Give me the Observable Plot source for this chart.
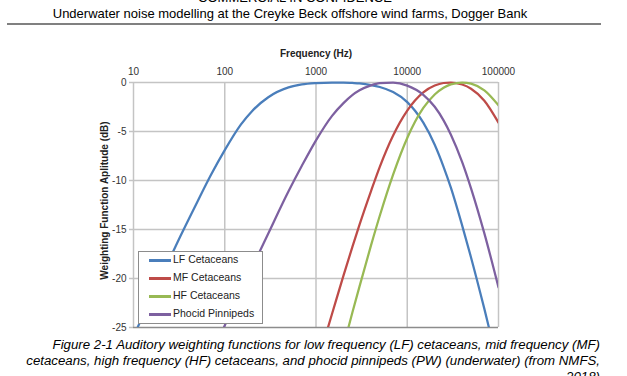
<!DOCTYPE html>
<html><head><meta charset="utf-8">
<script src="https://cdn.jsdelivr.net/npm/d3@7"></script>
<script src="https://cdn.jsdelivr.net/npm/@observablehq/plot@0.6"></script>
<style>
html,body{margin:0;padding:0;background:#fff;width:627px;height:376px;overflow:hidden;font-family:"Liberation Sans",Arial,sans-serif;color:#000;}
.abs{position:absolute;white-space:nowrap;}
#legend{left:138px;top:251px;width:123px;height:71px;border:1px solid #8c8c8c;background:#fff;}
.item{position:absolute;left:0;height:18px;font-size:10.5px;color:#222;}
.sw{position:absolute;left:10px;width:22px;height:2.5px;top:-1px;}
.lt{position:absolute;left:34px;top:-7px;}
</style></head><body>
<div class="abs" style="left:0;width:590px;top:-9px;text-align:center;font-size:13px;line-height:13px;">COMMERCIAL IN CONFIDENCE</div>
<div class="abs" style="left:0;width:580px;top:6px;text-align:center;font-size:13px;">Underwater noise modelling at the Creyke Beck offshore wind farms, Dogger Bank</div>
<div class="abs" style="left:7px;width:594px;top:23px;height:2px;background:#808080;"></div>
<div id="chart" class="abs" style="left:0;top:40px;"></div>
<div id="xtitle" class="abs" style="left:216px;width:200px;top:48px;text-align:center;font-size:10px;font-weight:bold;color:#222;">Frequency (Hz)</div>
<div id="ytitle" class="abs" style="left:4px;width:200px;top:195px;text-align:center;font-size:10px;font-weight:bold;color:#222;transform:rotate(-90deg);">Weighting Function Aplitude (dB)</div>
<div id="legend" class="abs"></div>
<div class="abs" style="right:27px;top:337px;text-align:right;font-size:13.25px;font-style:italic;line-height:16px;">Figure 2-1 Auditory weighting functions for low frequency (LF) cetaceans, mid frequency (MF)<br>cetaceans, high frequency (HF) cetaceans, and phocid pinnipeds (PW) (underwater) (from NMFS,<br>2018)</div>
<script>
const freqHz = [10, 12, 15, 20, 30, 50, 70, 100, 150, 200, 300, 500, 700, 1000, 1500, 2000, 2500, 3000, 4000, 5000, 7000, 10000, 15000, 20000, 25000, 30000, 40000, 50000, 70000, 100000];
const lfDb = [-25.9, -24.3, -22.4, -19.9, -16.4, -12.2, -9.5, -6.9, -4.3, -2.9, -1.5, -0.5, -0.2, -0.06, 0, 0, -0.05, -0.1, -0.26, -0.46, -0.98, -2.0, -4.1, -6.35, -8.6, -10.7, -14.6, -17.85, -23.1, -29.0];
const mfDb = [null, null, null, null, null, null, null, null, null, null, null, null, null, -29.1, -23.6, -19.7, -16.8, -14.5, -11.1, -8.6, -5.4, -2.86, -1.0, -0.31, -0.05, 0, -0.21, -0.64, -1.86, -4.1];
const hfDb = [null, null, null, null, null, null, null, null, null, null, null, null, null, null, null, -26.9, -23.5, -20.8, -16.65, -13.6, -9.4, -5.66, -2.6, -1.22, -0.53, -0.19, 0, -0.12, -0.8, -2.33];
const pwDb = [null, null, null, null, null, null, -27.9, -24.8, -21.3, -18.85, -15.4, -11.1, -8.5, -5.9, -3.4, -2.1, -1.29, -0.8, -0.29, -0.07, -0.02, -0.32, -1.26, -2.48, -3.86, -5.3, -8.13, -10.8, -15.4, -20.9];
const seriesNames = ["LF Cetaceans", "MF Cetaceans", "HF Cetaceans", "Phocid Pinnipeds"];
const seriesColors = ["#4a7ebb", "#be4b48", "#98b954", "#7d60a0"];
const xTicks = [10, 100, 1000, 10000, 100000];
const yTicks = [0, -5, -10, -15, -20, -25];

const seriesValues = [lfDb, mfDb, hfDb, pwDb];
const data = [];
seriesValues.forEach((vals, i) => {
  vals.forEach((v, j) => { if (v !== null) data.push({series: seriesNames[i], f: freqHz[j], db: v}); });
});

const chart = Plot.plot({
  width: 627, height: 300,
  marginLeft: 133, marginRight: 129, marginTop: 42, marginBottom: 13,
  style: {fontFamily: "Liberation Sans, Arial, sans-serif", fontSize: "10px", color: "#333", background: "transparent"},
  x: {type: "log", domain: [10, 100000]},
  y: {domain: [-25, 0]},
  color: {domain: seriesNames, range: seriesColors},
  marks: [
    Plot.ruleX(xTicks, {stroke: "#c4c4c4", strokeWidth: 1.5, strokeOpacity: 1}),
    Plot.ruleY(yTicks.filter(d => d !== -25), {stroke: "#c4c4c4", strokeWidth: 1.5, strokeOpacity: 1}),
    Plot.ruleY([-25], {stroke: "#8c8c8c", strokeWidth: 1.5, strokeOpacity: 1}),
    Plot.line(data, {x: "f", y: "db", z: "series", stroke: "series", strokeWidth: 2.25, curve: "monotone-x", clip: true}),
    Plot.axisX(xTicks, {anchor: "top", tickSize: 0, tickPadding: 8, tickFormat: d => String(d), label: null}),
    Plot.axisY(yTicks, {anchor: "left", tickSize: 4, tickPadding: 3, stroke: "#c4c4c4", strokeWidth: 1.5, strokeOpacity: 1, tickFormat: d => String(d), label: null})
  ]
});
chart.querySelectorAll("clipPath rect").forEach(r => {
  const y = +r.getAttribute("y"), h = +r.getAttribute("height");
  r.setAttribute("y", y - 3); r.setAttribute("height", h + 3);
});
document.getElementById("chart").appendChild(chart);

const legend = document.getElementById("legend");
seriesNames.forEach((name, i) => {
  const it = document.createElement("div");
  it.className = "item";
  it.style.top = (8 + i * 18) + "px";
  it.innerHTML = `<div class="sw" style="background:${seriesColors[i]}"></div><div class="lt">${name}</div>`;
  legend.appendChild(it);
});
</script>
</body></html>
